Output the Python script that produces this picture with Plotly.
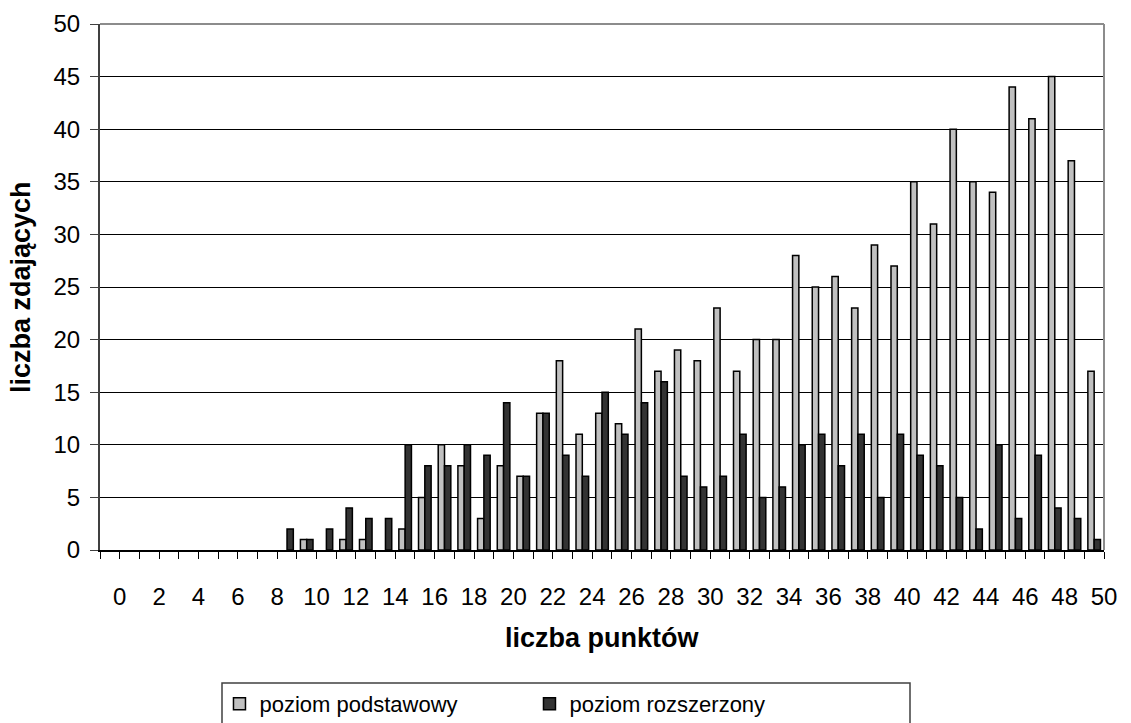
import plotly.graph_objects as go

categories = list(range(0, 51))
podstawowy = [0, 0, 0, 0, 0, 0, 0, 0, 0, 0,
              1, 0, 1, 1, 0, 2, 5, 10, 8, 3,
              8, 7, 13, 18, 11, 13, 12, 21, 17, 19,
              18, 23, 17, 20, 20, 28, 25, 26, 23, 29,
              27, 35, 31, 40, 35, 34, 44, 41, 45, 37,
              17]
rozszerzony = [0, 0, 0, 0, 0, 0, 0, 0, 0, 2,
               1, 2, 4, 3, 3, 10, 8, 8, 10, 9,
               14, 7, 13, 9, 7, 15, 11, 14, 16, 7,
               6, 7, 11, 5, 6, 10, 11, 8, 11, 5,
               11, 9, 8, 5, 2, 10, 3, 9, 4, 3,
               1]
series_names = ["poziom podstawowy", "poziom rozszerzony"]
x_title = "liczba punktów"
y_title = "liczba zdających"

FONT = "Liberation Sans, Arial, sans-serif"

# tick marks at category boundaries, labels every 2 categories
tick_vals = [c - 0.5 for c in categories] + [categories[-1] + 0.5]
tick_text = [""] + [str(c) if c % 2 == 0 else "" for c in categories]


def outline_widths(values):
    # no outline for empty (zero) bars
    return [0 if v == 0 else 1.5 for v in values]


fig = go.Figure()
# points passed from the last category backwards so that the legend symbol
# (styled from the first point) keeps its outline
fig.add_trace(go.Bar(
    x=categories[::-1], y=podstawowy[::-1], name=series_names[0],
    marker=dict(color="#C0C0C0",
                line=dict(color="#000000", width=outline_widths(podstawowy[::-1]))),
))
fig.add_trace(go.Bar(
    x=categories[::-1], y=rozszerzony[::-1], name=series_names[1],
    marker=dict(color="#333333",
                line=dict(color="#000000", width=outline_widths(rozszerzony[::-1]))),
))

fig.update_layout(
    width=1131, height=723,
    margin=dict(l=100, r=27, t=24, b=173, autoexpand=False),
    paper_bgcolor="white", plot_bgcolor="white",
    barmode="group", bargap=0.36, bargroupgap=0.0,
    font=dict(family=FONT, size=22, color="#000000"),
    showlegend=True,
    legend=dict(
        orientation="h", x=0.119, y=-0.2529, xanchor="left", yanchor="top",
        bgcolor="rgba(0,0,0,0)", borderwidth=0,
        font=dict(family=FONT, size=22, color="#000000"),
        entrywidth=265, entrywidthmode="pixels", itemwidth=30,
    ),
    xaxis=dict(
        range=[-0.5, 50.5], tickmode="array", tickvals=tick_vals, ticktext=tick_text,
        ticks="outside", ticklen=7, tickwidth=1, tickcolor="#000000",
        showgrid=False, zeroline=False, showline=True, linecolor="#000000", linewidth=1.5,
        tickfont=dict(family=FONT, size=24), ticklabelstandoff=17,
    ),
    yaxis=dict(
        range=[0, 50], tickmode="linear", tick0=0, dtick=5,
        ticks="outside", ticklen=8, tickwidth=1, tickcolor="#404040",
        showgrid=True, gridcolor="#000000", gridwidth=1, zeroline=False,
        showline=True, linecolor="#404040", linewidth=2,
        tickfont=dict(family=FONT, size=24), ticklabelstandoff=5,
    ),
    annotations=[
        dict(text="<b>%s</b>" % x_title, xref="paper", yref="paper",
             x=0.5, y=(550 - 638) / 526, xanchor="center", yanchor="middle",
             showarrow=False, font=dict(family=FONT, size=27)),
        dict(text="<b>%s</b>" % y_title, xref="paper", yref="paper",
             x=(21 - 100) / 1004, y=0.5, xanchor="center", yanchor="middle",
             textangle=-90, showarrow=False, font=dict(family=FONT, size=27)),
    ],
    shapes=[
        dict(type="line", xref="paper", yref="paper", x0=0, x1=1, y0=1, y1=1,
             line=dict(color="#8c8c8c", width=2)),
        dict(type="line", xref="paper", yref="paper", x0=1, x1=1, y0=0, y1=1,
             line=dict(color="#8c8c8c", width=2)),
        dict(type="rect", xref="paper", yref="paper",
             x0=(222 - 100) / 1004, x1=(910 - 100) / 1004,
             y0=(550 - 730) / 526, y1=(550 - 683) / 526,
             line=dict(color="#404040", width=1.5), fillcolor="rgba(0,0,0,0)"),
    ],
)

fig.write_html("out.html", config={"displayModeBar": False},
               post_script="document.body.style.margin='0px';")
